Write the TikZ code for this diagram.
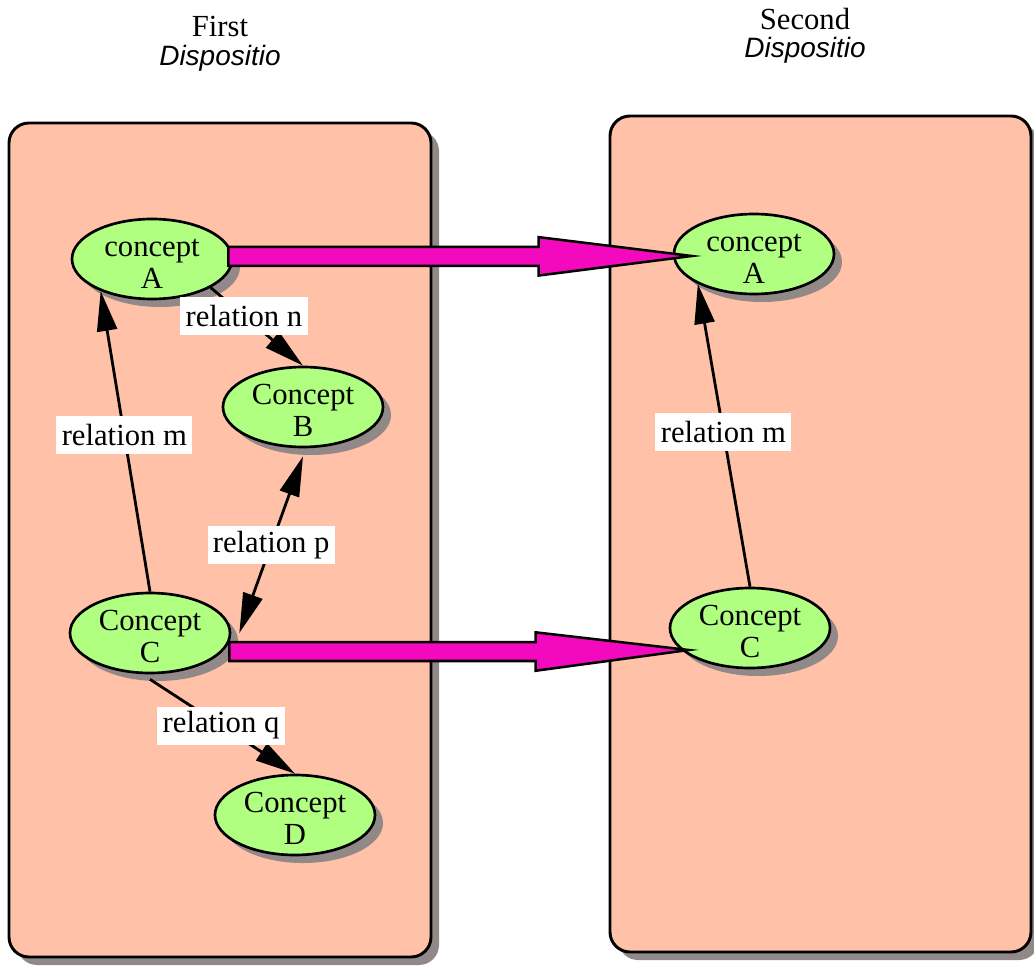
\documentclass[tikz,border=0pt]{standalone}
\usepackage{fontspec}
\setmainfont{Liberation Serif}
\newfontfamily\dispfont{Liberation Sans}
\usetikzlibrary{shapes.geometric,arrows.meta,shadows,calc}
\definecolor{peach}{RGB}{255,193,168}
\definecolor{lgreen}{RGB}{176,255,128}
\definecolor{mag}{RGB}{244,10,190}
\definecolor{shgray}{RGB}{145,136,136}
\newcommand\tstrut{\rule{0pt}{20pt}}
\newcommand\fatarrow[2]{%
  \fill[shgray,shift={(6pt,-6pt)}] let \p1=(#1),\p2=(#2) in
    (\x1,{\y1+7.1pt}) -- ({\x2-114.75pt},{\y1+7.1pt}) -- ({\x2-114.75pt},{\y1+14.4pt}) --
    (\x2,\y2) -- ({\x2-114.75pt},{\y1-14.4pt}) -- ({\x2-114.75pt},{\y1-7.1pt}) -- (\x1,{\y1-7.1pt}) -- cycle;
  \draw[fat] let \p1=(#1),\p2=(#2) in
    (\x1,{\y1+7.1pt}) -- ({\x2-114.75pt},{\y1+7.1pt}) -- ({\x2-114.75pt},{\y1+14.4pt}) --
    (\x2,\y2) -- ({\x2-114.75pt},{\y1-14.4pt}) -- ({\x2-114.75pt},{\y1-7.1pt}) -- (\x1,{\y1-7.1pt}) -- cycle;
}
\begin{document}
\begin{tikzpicture}[x=0.75pt,y=-0.75pt,
  shd/.style={drop shadow={shadow xshift=6pt,shadow yshift=-6pt,fill=shgray,opacity=1}},
  panel/.style={draw,line width=2.2pt,fill=peach,rounded corners=15pt,shd,inner sep=0pt},
  concept/.style={ellipse,draw,line width=2pt,fill=lgreen,shd,minimum width=120pt,minimum height=60pt,
    inner xsep=0pt,inner ysep=-4.5pt,align=center,font=\fontsize{23}{24}\selectfont},
  title/.style={inner sep=0pt,font=\fontsize{23}{24}\selectfont},
  dtitle/.style={inner sep=0pt,font=\dispfont\itshape\fontsize{21}{24}\selectfont},
  rel/.style={line width=2.1pt,-{Triangle[length=30pt,width=15pt]}},
  birel/.style={line width=2.1pt,{Triangle[length=30pt,width=15pt]}-{Triangle[length=30pt,width=15pt]}},
  lbl/.style={fill=white,inner xsep=4pt,inner ysep=0pt,minimum height=28.5pt,font=\fontsize{23}{24}\selectfont},
  fat/.style={draw,line width=1.9pt,fill=mag,line join=miter}]
\useasboundingbox (0,0) rectangle (1034,966);

% panels
\node[panel,minimum width=316.5pt,minimum height=625.5pt] (P1) at (220,540) {};
\node[panel,minimum width=315.75pt,minimum height=627pt] (P2) at (820.5,534) {};

% titles
\node[title] (T1) at (220,27) {First};
\node[dtitle] (T1b) at (220,58) {Dispositio};
\node[title] (T2) at (805,19) {Second};
\node[dtitle] (T2b) at (805,50) {Dispositio};

% concepts
\node[concept] (A1) at (152,259) {\tstrut concept\\A};
\node[concept] (B1) at (303,407) {\tstrut Concept\\B};
\node[concept] (C1) at (150,633) {\tstrut Concept\\C};
\node[concept] (D1) at (295,815) {\tstrut Concept\\D};
\node[concept] (A2) at (754,254) {\tstrut concept\\A};
\node[concept] (C2) at (750,628) {\tstrut Concept\\C};

% fat magenta arrows
\coordinate (m1s) at ([xshift=-3.75pt,yshift=2pt]A1.east);
\coordinate (m1e) at ([xshift=14.25pt,yshift=-1.5pt]A2.west);
\coordinate (m2s) at ([xshift=-1.5pt,yshift=-13.9pt]C1.east);
\coordinate (m2e) at ([xshift=15pt,yshift=-16.5pt]C2.west);
\fatarrow{m1s}{m1e}
\fatarrow{m2s}{m2e}

% relations
\draw[rel] (C1.north) -- node[lbl,pos=0.52] (lm1) {relation m} (A1.212);
\draw[rel] (A1.334) -- node[lbl,pos=0.36] (ln) {relation n} (B1.north);
\draw[birel] ([xshift=6pt]C1.east) -- node[lbl,pos=0.5] (lp) {relation p} ([yshift=-6pt]B1.south);
\draw[rel] ([yshift=-3.75pt]C1.south) -- node[lbl,pos=0.49] (lq) {relation q} (D1.north);
\draw[rel] (C2.north) -- node[lbl,pos=0.51] (lm2) {relation m} (A2.208);
\end{tikzpicture}
\end{document}
